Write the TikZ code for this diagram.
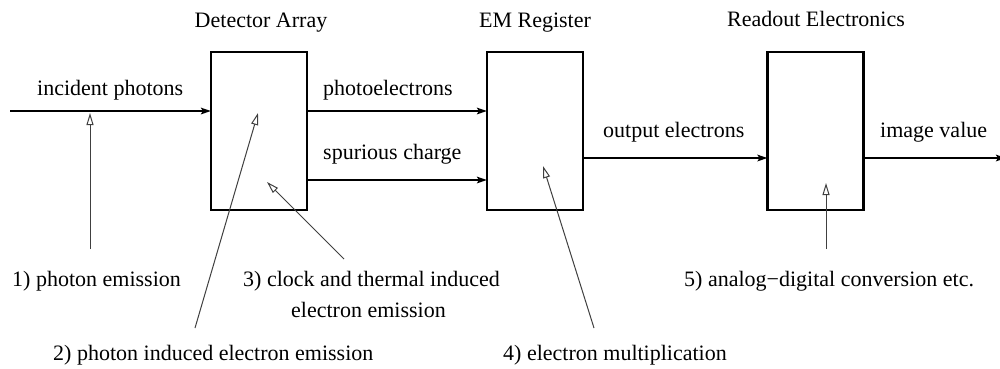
\documentclass[tikz,border=0pt]{standalone}
\usepackage{fontspec}
\setmainfont{Liberation Serif}
\usetikzlibrary{arrows.meta}
\begin{document}
\begin{tikzpicture}[x=1pt,y=-1pt,
  box/.style={draw, line width=2.6pt, inner sep=0pt, outer sep=0pt, minimum width=96pt, minimum height=158pt},
  flow/.style={line width=2.6pt, -{Stealth[length=10pt,width=6.5pt,inset=2pt]}},
  note/.style={line width=1pt, draw=black!75, -{Triangle[open,length=12pt,width=7pt,line width=1pt]}},
  lbl/.style={font=\fontsize{22}{26}\selectfont, inner sep=0pt, anchor=base west},
  ttl/.style={font=\fontsize{22}{26}\selectfont, inner sep=0pt, anchor=base}]
\useasboundingbox (0,0) rectangle (1000,368);
\fill[white] (0,0) rectangle (1000,368);
% boxes
\node[box] (det) at (259,131) {};
\node[box] (em) at (535,131) {};
\node[box] (ro) at (815.5,131) {};
% titles
\node[ttl] (tdet) at (261,27) {Detector Array};
\node[ttl] (tem) at (535,27) {EM Register};
\node[ttl] (tro) at (816,26) {Readout Electronics};
% main flow
\coordinate (in) at (10,111);
\coordinate (out) at (1006,158);
\draw[flow] (in) -- (det.west |- in);
\draw[flow] ([yshift=20pt]det.east) -- ([yshift=20pt]em.west);
\draw[flow] ([yshift=-49pt]det.east) -- ([yshift=-49pt]em.west);
\draw[flow] ([yshift=-27pt]em.east) -- ([yshift=-27pt]ro.west);
\draw[flow] ([yshift=-27pt]ro.east) -- (out);
% flow labels
\node[lbl] (lin) at (37,95) {incident photons};
\node[lbl] (lpe) at (323,95) {photoelectrons};
\node[lbl] (lsc) at (323,159) {spurious charge};
\node[lbl] (loe) at (603,137) {output electrons};
\node[lbl] (liv) at (880,137) {image value};
% note labels
\node[lbl] (n1) at (12,286) {1) photon emission};
\node[lbl] (n3) at (243,286) {3) clock and thermal induced};
\node[lbl] (n3b) at (291,317) {electron emission};
\node[lbl] (n2) at (53,360) {2) photon induced electron emission};
\node[lbl] (n4) at (503,360) {4) electron multiplication};
\node[lbl] (n5) at (684,286) {5) analog−digital conversion etc.};
% note arrows
\coordinate (a1s) at (90,249); \coordinate (a1e) at (90,113);
\coordinate (a2s) at (195,328); \coordinate (a2e) at (258,113);
\coordinate (a3s) at (344,259); \coordinate (a3e) at (267,182);
\coordinate (a4s) at (594,328); \coordinate (a4e) at (543,166);
\coordinate (a5s) at (826,249); \coordinate (a5e) at (826,183);
\draw[note] (a1s) -- (a1e);
\draw[note] (a2s) -- (a2e);
\draw[note] (a3s) -- (a3e);
\draw[note] (a4s) -- (a4e);
\draw[note] (a5s) -- (a5e);
\end{tikzpicture}
\end{document}
